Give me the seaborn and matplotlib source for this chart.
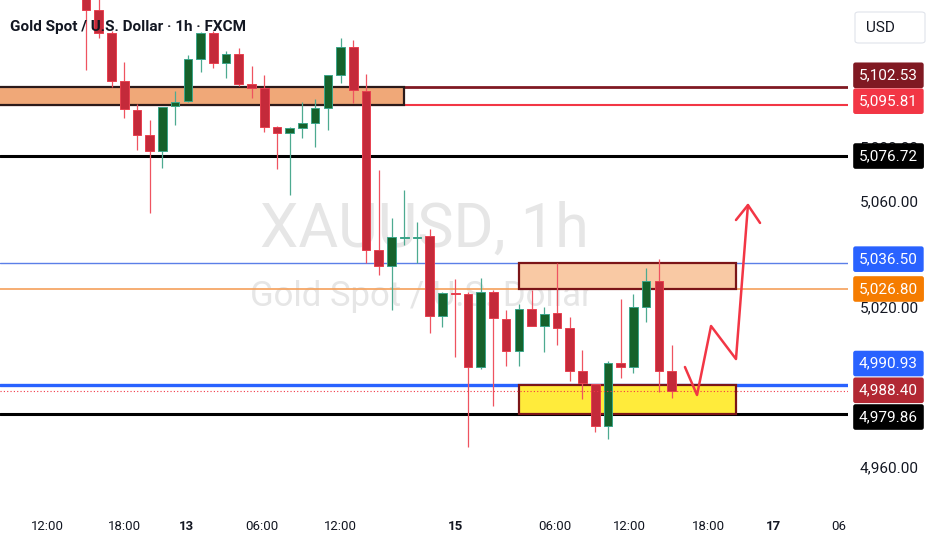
import numpy as np
import matplotlib
matplotlib.use("Agg")
import matplotlib.pyplot as plt
import matplotlib.patches as mpatches
import matplotlib.transforms as mtransforms
import seaborn as sns

# 1h candles (XAUUSD, FXCM)
opens = [5139.0, 5131.5, 5122.9, 5104.9, 5094.0, 5084.6, 5078.6, 5095.5, 5097.4, 5113.1,
         5122.9, 5111.6, 5115.0, 5103.8, 5102.3, 5087.6, 5085.4, 5087.2, 5089.1, 5094.7,
         5107.1, 5117.6, 5101.1, 5041.4, 5035.4, 5045.9, 5046.0, 5046.7, 5016.7, 5025.3,
         5024.9, 4997.5, 5025.7, 5015.5, 5003.5, 5019.3, 5012.9, 5017.8, 5012.2, 4996.0,
         4991.1, 4975.4, 4999.0, 4997.5, 5020.0, 5029.8, 4996.0]
highs = [5141.0, 5136.0, 5123.5, 5112.0, 5096.2, 5090.2, 5095.3, 5101.1, 5114.6, 5123.2,
         5123.6, 5116.1, 5117.3, 5110.5, 5107.1, 5088.0, 5087.6, 5097.0, 5098.1, 5107.3,
         5121.0, 5120.3, 5107.5, 5071.5, 5053.4, 5064.0, 5051.9, 5049.3, 5025.7, 5030.5,
         5025.7, 5030.9, 5026.4, 5018.9, 5021.2, 5026.4, 5020.0, 5036.6, 5016.3, 5003.9,
         4991.1, 4999.8, 5023.0, 5024.9, 5034.7, 5038.1, 5005.8]
lows = [5109.0, 5121.0, 5102.6, 5091.0, 5079.0, 5055.3, 5072.2, 5088.4, 5097.0, 5108.3,
        5109.8, 5106.0, 5103.0, 5098.5, 5085.7, 5071.8, 5062.1, 5083.5, 5080.1, 5086.5,
        5104.1, 5096.6, 5036.6, 5032.1, 5018.9, 5043.3, 5036.6, 5010.3, 5012.5, 5001.3,
        4967.5, 4996.8, 4982.9, 4997.9, 4997.9, 5012.9, 5003.1, 5005.8, 4992.3, 4985.5,
        4973.1, 4970.5, 4993.4, 4995.3, 5014.4, 4988.1, 4985.9]
closes = [5131.5, 5122.9, 5104.9, 5094.4, 5084.6, 5078.6, 5095.1, 5097.0, 5113.1, 5122.9,
          5111.6, 5115.0, 5103.8, 5102.3, 5087.6, 5085.4, 5087.2, 5089.1, 5094.7, 5107.1,
          5117.6, 5101.5, 5041.4, 5035.4, 5046.3, 5046.2, 5046.3, 5016.7, 5025.3, 5025.0,
          4997.5, 5025.7, 5015.9, 5003.5, 5019.3, 5012.9, 5017.4, 5012.2, 4996.0, 4991.5,
          4975.4, 4999.0, 4997.5, 5020.0, 5029.8, 4996.0, 4988.4]

# time axis (candle index -> label)
tick_pos = [-3, 3, 7.9, 13.8, 20, 29, 36.8, 42.7, 48.9, 54, 59.1]
tick_labels = ["12:00", "18:00", "13", "06:00", "12:00", "15", "06:00", "12:00", "18:00", "17", "06"]
bold_labels = ["13", "15", "17"]

# price scale ticks (the others sit under the price tags)
price_ticks = [4960, 5020, 5040, 5060, 5080]

# drawn levels: price, colour, width
level_prices = [5102.53, 5095.81, 5076.72, 5036.50, 5026.80, 4990.93, 4979.86]
level_colors = ["#801922", "#F23645", "#000000", "#5B7FE8", "#F5A05A", "#2962FF", "#000000"]
level_widths = [2.0, 1.5, 2.2, 1.0, 1.2, 2.4, 2.2]
last_price = 4988.40

# zones: x from, x to (candle index), low, high
zone_x0 = [-8, 34.0, 34.0]
zone_x1 = [25.0, 51.06, 51.06]
zone_lo = [5095.81, 5026.80, 4979.86]
zone_hi = [5102.53, 5036.50, 4990.93]
zone_fill = ["#F0A878", "#F9C9A4", "#FFEB3B"]
zone_edge = ["#2B1A1A", "#7B1518", "#7B1518"]

# hand-drawn projection path
path_x = [47.05, 48.0, 49.1, 51.06, 52.0]
path_y = [4997.5, 4987.0, 5012.9, 5000.5, 5058.3]
head_x = [51.06, 52.0, 52.95]
head_y = [5052.7, 5058.3, 5051.6]

# price tags on the right scale: price, box colour, shift in px
tag_prices = [5102.53, 5095.81, 5076.72, 5036.50, 5026.80, 4990.93, 4988.40, 4979.86]
tag_colors = ["#801922", "#F23645", "#000000", "#2962FF", "#F57C00", "#2962FF", "#B22833", "#000000"]
tag_shift = [12, 4, 0, 4, 0, 21, 1, -3]

sns.set_theme(style="white")
plt.rcParams["font.family"] = ["Roboto", "DejaVu Sans"]

fig = plt.figure(figsize=(9.32, 5.5), dpi=100)
fig.patch.set_facecolor("white")
ax = fig.add_axes([0, 45 / 550, 848 / 932, 505 / 550])
ax.set_facecolor("white")
ax.set_xlim(-6.76, 59.86)
ax.set_ylim(4945.7, 5135.3)
for s in ax.spines.values():
    s.set_visible(False)

# watermark
ax.text(0.501, 0.545, "XAUUSD, 1h", transform=ax.transAxes, ha="center", va="center",
        fontsize=44, color="#E6E6E6", zorder=0)
ax.text(0.497, 0.412, "Gold Spot / U.S. Dollar", transform=ax.transAxes, ha="center",
        va="center", fontsize=25, color="#E6E6E6", zorder=0)

# horizontal levels
for p, c, w in zip(level_prices, level_colors, level_widths):
    ax.axhline(p, color=c, lw=w, zorder=2)
ax.axhline(last_price, color="#F23645", lw=0.8, ls=(0, (1, 2)), zorder=6)

# zones
for x0, x1, lo, hi, fc, ec in zip(zone_x0, zone_x1, zone_lo, zone_hi, zone_fill, zone_edge):
    ax.add_patch(mpatches.Rectangle((x0, lo), x1 - x0, hi - lo, facecolor=fc,
                                    edgecolor=ec, lw=1.6, zorder=3))

# candles
o = np.array(opens)
c = np.array(closes)
x = np.arange(len(o))
up = c >= o
wick_col = np.where(up, "#4DAA90", "#EF5360")
body_col = np.where(up, "#16622B", "#C42A3A")
edge_col = np.where(up, "#3BA58A", "#E8404F")
ax.vlines(x, lows, highs, colors=wick_col, lw=0.9, zorder=4)
bottoms = np.minimum(o, c)
heights = np.maximum(np.abs(c - o), 0.45)
ax.bar(x, heights, bottom=bottoms, width=0.68, color=body_col, edgecolor=edge_col,
       linewidth=0.7, zorder=5)

# projection
sns.lineplot(x=path_x, y=path_y, sort=False, color="#F23645", lw=1.8, ax=ax, zorder=7)
sns.lineplot(x=head_x, y=head_y, sort=False, color="#F23645", lw=1.8, ax=ax, zorder=7)

# axes ticks
ax.set_xticks(tick_pos)
ax.set_xticklabels(tick_labels)
for lab in ax.get_xticklabels():
    lab.set_fontsize(9.5)
    lab.set_color("#131722")
    if lab.get_text() in bold_labels:
        lab.set_fontweight("bold")
ax.yaxis.tick_right()
ax.set_yticks(price_ticks)
ax.set_yticklabels([f"{v:,.2f}" for v in price_ticks])
ax.tick_params(axis="y", length=0, pad=8.5, labelsize=11, labelcolor="#131722")
ax.tick_params(axis="x", length=0, pad=11)
ax.set_xlabel("")
ax.set_ylabel("")

# price tags
trans = mtransforms.blended_transform_factory(fig.transFigure, ax.transData)
for p, col, dy in zip(tag_prices, tag_colors, tag_shift):
    ax.annotate(f"{p:,.2f}", xy=(859 / 932, p), xycoords=trans, xytext=(0, dy),
                textcoords="offset pixels", ha="left", va="center", fontsize=11,
                color="white", annotation_clip=False, zorder=10,
                bbox=dict(boxstyle="round,pad=0.38,rounding_size=0.15", fc=col, ec="none"))

# currency box
fig.patches.append(mpatches.FancyBboxPatch((855 / 932, 1 - 43 / 550), 70 / 932, 31 / 550,
                                           boxstyle="round,pad=0,rounding_size=0.004",
                                           transform=fig.transFigure, fc="white",
                                           ec="#E0E3EB", lw=0.8))
fig.text(866 / 932, 1 - 28 / 550, "USD", fontsize=11, color="#131722", va="center")

# title
fig.text(10 / 932, 1 - 27 / 550, "Gold Spot / U.S. Dollar · 1h · FXCM", fontsize=11,
         fontweight="bold", color="#131722", va="center", zorder=20)

fig.savefig("out.png", dpi=100, facecolor="white")
